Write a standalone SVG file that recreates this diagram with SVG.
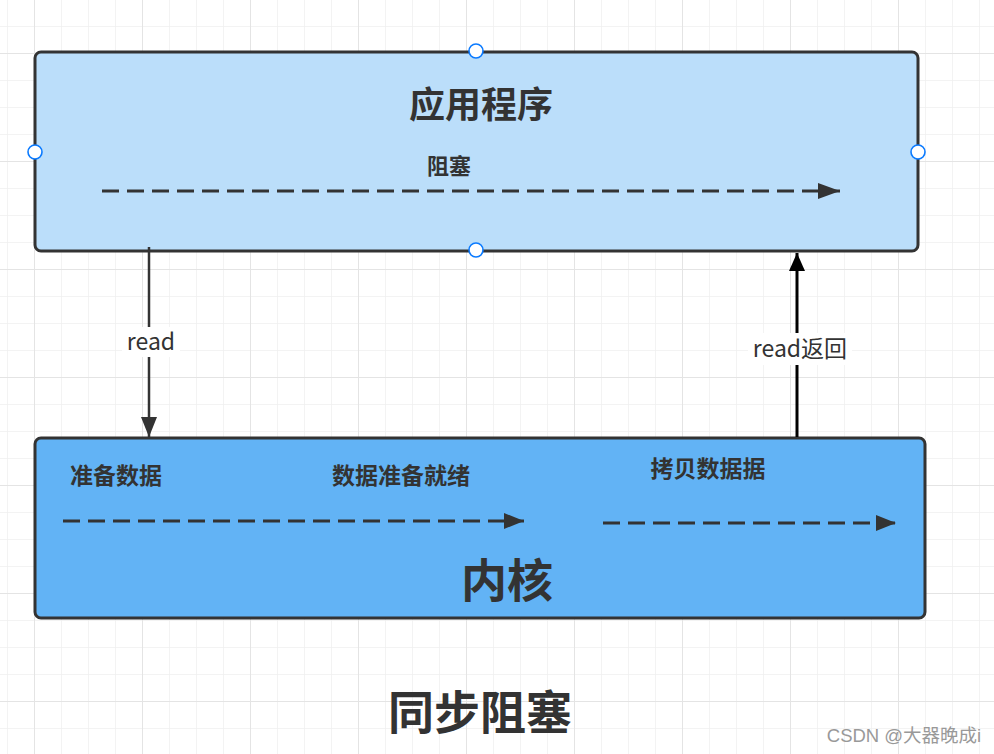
<svg xmlns="http://www.w3.org/2000/svg" width="994" height="754" viewBox="0 0 994 754">
<defs>
<pattern id="minor" x="7" y="26" width="27" height="27" patternUnits="userSpaceOnUse">
<path d="M0 0H27M0 0V27" fill="none" stroke="#efefef" stroke-width="1.5"/>
</pattern>
<pattern id="major" x="34" y="53" width="108" height="108" patternUnits="userSpaceOnUse">
<path d="M0 0H108M0 0V108" fill="none" stroke="#e4e4e4" stroke-width="2"/>
</pattern>
<marker id="ah" viewBox="0 0 22 16" refX="22" refY="8" markerWidth="22" markerHeight="16" markerUnits="userSpaceOnUse" orient="auto">
<path d="M0 0L22 8L0 16Z" fill="#333"/>
</marker>
<marker id="ahb" viewBox="0 0 18 16" refX="18" refY="8" markerWidth="18" markerHeight="16" markerUnits="userSpaceOnUse" orient="auto">
<path d="M0 0L18 8L0 16Z" fill="#000"/>
</marker>
<marker id="ahd" viewBox="0 0 20 16" refX="20" refY="8" markerWidth="20" markerHeight="16" markerUnits="userSpaceOnUse" orient="auto">
<path d="M0 0L20 8L0 16Z" fill="#333"/>
</marker>
</defs>
<style>
.box{stroke:#333;stroke-width:3}
.cjk{font-family:"Noto Sans CJK SC","Noto Sans",sans-serif;fill:#333;font-weight:bold}
.lbl{font-family:"Noto Sans CJK SC","Open Sans",sans-serif;fill:#333;font-size:23px}
.dash{fill:none;stroke:#333;stroke-width:3;stroke-dasharray:17 8}
.port{fill:#fff;stroke:#0a7aff;stroke-width:1.6}
</style>
<rect width="994" height="754" fill="#fff"/>
<rect width="994" height="754" fill="url(#minor)"/>
<rect width="994" height="754" fill="url(#major)"/>

<g id="app">
<rect class="box" x="35" y="52" width="883" height="199" rx="6" fill="#bbdefa"/>
<text class="cjk" x="481" y="118" font-size="36" text-anchor="middle">应用程序</text>
<text class="cjk" x="449" y="174" font-size="22" text-anchor="middle">阻塞</text>
<path class="dash" d="M102 191H840" marker-end="url(#ah)"/>
<circle class="port" cx="476" cy="51" r="7"/>
<circle class="port" cx="35" cy="152" r="7"/>
<circle class="port" cx="918" cy="152" r="7"/>
<circle class="port" cx="476" cy="250" r="7"/>
</g>

<g id="kernel">
<rect class="box" x="35" y="438" width="890" height="180" rx="6" fill="#62b3f5"/>
<text class="cjk" x="116" y="484" font-size="23" text-anchor="middle">准备数据</text>
<text class="cjk" x="401" y="484" font-size="23" text-anchor="middle">数据准备就绪</text>
<text class="cjk" x="708" y="477" font-size="23" text-anchor="middle">拷贝数据据</text>
<path class="dash" d="M63 521H524" marker-end="url(#ahd)"/>
<path class="dash" d="M603 523H896" marker-end="url(#ahd)"/>
<text class="cjk" x="507" y="597" font-size="46" text-anchor="middle">内核</text>
</g>

<g id="connectors">
<path d="M149 247V437" fill="none" stroke="#333" stroke-width="2.5" marker-end="url(#ahd)"/>
<rect x="122" y="327" width="58" height="30" fill="#fff"/>
<text class="lbl" x="151" y="350" text-anchor="middle">read</text>
<path d="M797 437V253" fill="none" stroke="#000" stroke-width="3" marker-end="url(#ahb)"/>
<rect x="748" y="333" width="104" height="32" fill="#fff"/>
<text class="lbl" x="800" y="357" text-anchor="middle">read返回</text>
</g>

<text class="cjk" x="480" y="729" font-size="46" text-anchor="middle">同步阻塞</text>
<text x="904" y="742" font-family="'Liberation Sans','Noto Sans CJK SC',sans-serif" font-size="18.5" fill="#999" text-anchor="middle">CSDN @大器晚成i</text>
</svg>
